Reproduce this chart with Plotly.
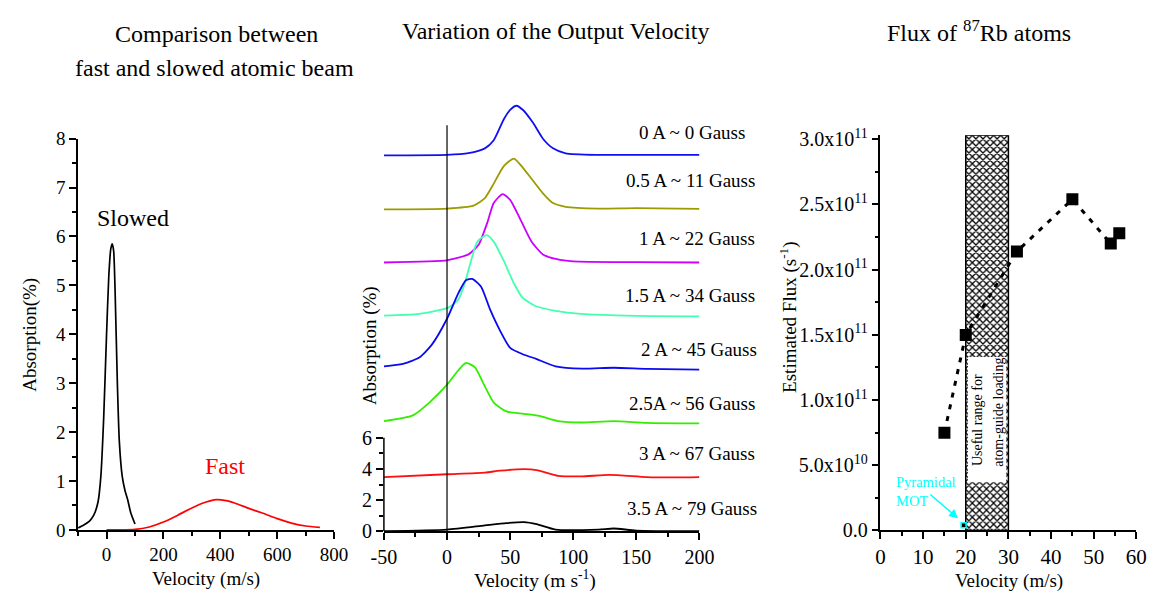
import plotly.graph_objects as go

W, H = 1170, 602
FONT = "Liberation Serif"

# ---------------- data: left panel ----------------
slow_v = [-100, -80, -60, -45, -30, -20, -10, 0, 8, 15, 20, 25, 30, 38, 45, 55, 65, 75, 85, 100]
slow_a = [0.04, 0.10, 0.18, 0.30, 0.57, 1.1, 2.3, 4.0, 5.2, 5.75, 5.85, 5.7, 4.9, 3.0, 1.8, 1.1, 0.8, 0.6, 0.35, 0.12]
fast_v = [0, 50, 100, 150, 200, 250, 300, 350, 385, 420, 450, 500, 550, 600, 650, 700, 750]
fast_a = [0.00, 0.00, 0.01, 0.06, 0.16, 0.30, 0.45, 0.57, 0.62, 0.60, 0.55, 0.44, 0.34, 0.23, 0.14, 0.08, 0.05]

# ---------------- data: middle panel (stacked, offset) ----------------
v0 = [-50, 0, 17, 30, 37, 45, 50, 55, 60, 68, 76, 84, 94, 120, 150, 200]
a0 = [24.17, 24.2, 24.31, 24.62, 25.14, 26.49, 27.1, 27.36, 27.1, 26.28, 25.24, 24.62, 24.3, 24.2, 24.2, 24.2]
v05 = [-50, 0, 21, 30, 37, 45, 53, 60, 68, 76, 84, 94, 120, 150, 200]
a05 = [20.7, 20.75, 20.94, 21.42, 22.35, 23.48, 23.96, 23.38, 22.55, 21.73, 21.1, 20.86, 20.75, 20.78, 20.73]
v1 = [-50, 0, 4, 17, 25, 32, 37, 44, 50, 58, 67, 76, 87, 100, 150, 200]
a1 = [17.28, 17.42, 17.49, 17.8, 18.42, 19.86, 21.1, 21.68, 21.31, 20.07, 18.62, 17.8, 17.49, 17.35, 17.3, 17.28]
v15 = [-50, -22, 1, 9, 14, 19, 24, 31.5, 37, 45, 53, 60, 70, 86, 106, 150, 200]
a15 = [13.86, 13.97, 14.38, 14.9, 15.93, 17.38, 18.62, 19.04, 18.62, 17.38, 15.93, 15.0, 14.48, 14.17, 13.97, 13.85, 13.82]
v2 = [-50, -35, -22, -12, 0, 9, 15, 20, 27, 34, 42, 50, 60, 71, 86, 107, 132, 158, 200]
a2 = [10.6, 10.76, 11.17, 12.0, 13.66, 15.31, 16.14, 16.22, 15.72, 14.28, 12.9, 11.79, 11.38, 11.07, 10.6, 10.45, 10.51, 10.44, 10.39]
v25 = [-50, -27, -14, 0, 9, 15, 22, 30, 37, 47, 61, 73, 88, 106, 132, 158, 200]
a25 = [7.08, 7.45, 8.27, 9.42, 10.35, 10.82, 10.55, 9.31, 8.27, 7.70, 7.55, 7.41, 7.08, 6.99, 7.08, 6.96, 6.93]
v3 = [-50, 0, 30, 42, 61, 71, 88, 106, 129, 158, 179, 200]
a3 = [3.48, 3.66, 3.77, 3.89, 3.99, 3.93, 3.56, 3.52, 3.62, 3.48, 3.46, 3.48]
v35 = [-50, 0, 30, 47, 61, 71, 86, 120, 132, 150, 200]
a35 = [0.0, 0.1, 0.37, 0.52, 0.58, 0.45, 0.10, 0.10, 0.17, 0.04, 0.0]

mid_series = [
    (v0, a0, "#1010f0", "0 A ~ 0 Gauss"),
    (v05, a05, "#9c9c00", "0.5 A ~ 11 Gauss"),
    (v1, a1, "#cc00ff", "1 A ~ 22 Gauss"),
    (v15, a15, "#44ffae", "1.5 A ~ 34 Gauss"),
    (v2, a2, "#0a0af0", "2 A ~ 45 Gauss"),
    (v25, a25, "#33ee00", "2.5A ~ 56 Gauss"),
    (v3, a3, "#ff1010", "3 A ~ 67 Gauss"),
    (v35, a35, "#000000", "3.5 A ~ 79 Gauss"),
]
mid_label_y_px = [127, 177, 237, 296, 352, 408, 460, 517]
mid_label_x_px = [752, 762, 762, 762, 764, 762, 762, 764]

# ---------------- data: right panel ----------------
flux_v = [15, 20, 32, 45, 54, 56]
flux = [0.75e11, 1.50e11, 2.14e11, 2.54e11, 2.20e11, 2.28e11]
mot_v = [19.5]
mot_flux = [0.04e11]
useful_range = [20, 30]
hatch_top = 3.03e11
white_box = [0.37e11, 1.33e11]
flux_ticks = [0, 0.5e11, 1.0e11, 1.5e11, 2.0e11, 2.5e11, 3.0e11]
flux_ticktext = ["0.0", "5.0x10<sup>10</sup>", "1.0x10<sup>11</sup>", "1.5x10<sup>11</sup>",
                 "2.0x10<sup>11</sup>", "2.5x10<sup>11</sup>", "3.0x10<sup>11</sup>"]


def px(x):
    return x / W


def py(y):
    return 1 - y / H


fig = go.Figure()

# left panel
fig.add_trace(go.Scatter(x=slow_v, y=slow_a, mode="lines", line=dict(color="black", width=1.7, shape="spline", smoothing=0.6),
                         xaxis="x", yaxis="y", showlegend=False))
fig.add_trace(go.Scatter(x=fast_v, y=fast_a, mode="lines", line=dict(color="red", width=1.7, shape="spline", smoothing=0.6),
                         xaxis="x", yaxis="y", showlegend=False))

# middle panel
for v, a, c, _ in mid_series:
    fig.add_trace(go.Scatter(x=v, y=a, mode="lines", line=dict(color=c, width=1.8, shape="spline", smoothing=0.6),
                             xaxis="x2", yaxis="y2", showlegend=False))

# right panel
fig.add_trace(go.Bar(x=[sum(useful_range) / 2], y=[hatch_top], width=useful_range[1] - useful_range[0],
                     marker=dict(color="white", line=dict(color="black", width=1.5),
                                 pattern=dict(shape="x", fgcolor="black", bgcolor="white", size=5, solidity=0.45,
                                              fillmode="replace")),
                     xaxis="x3", yaxis="y3", showlegend=False))
fig.add_trace(go.Bar(x=[sum(useful_range) / 2], y=[white_box[1] - white_box[0]], base=[white_box[0]],
                     width=(useful_range[1] - useful_range[0]) * 0.9,
                     marker=dict(color="white", line=dict(width=0)),
                     xaxis="x3", yaxis="y3", showlegend=False))
fig.add_trace(go.Scatter(x=flux_v, y=flux, mode="lines+markers",
                         line=dict(color="black", width=3, dash="5px,7px"),
                         marker=dict(symbol="square", size=12, color="black"),
                         xaxis="x3", yaxis="y3", showlegend=False))
fig.add_trace(go.Scatter(x=mot_v, y=mot_flux, mode="markers",
                         marker=dict(symbol="square", size=5, color="black", line=dict(color="cyan", width=1.5)),
                         xaxis="x3", yaxis="y3", showlegend=False))

axis_common = dict(showline=True, linecolor="black", linewidth=1.5, ticks="outside", ticklen=7, tickwidth=1.5,
                   tickcolor="black", showgrid=False, zeroline=False, mirror=False,
                   tickfont=dict(family=FONT, size=19, color="black"))
minor_common = dict(ticks="outside", ticklen=4, tickwidth=1.5, tickcolor="black", showgrid=False)

fig.update_layout(
    width=W, height=H, margin=dict(l=0, r=0, t=0, b=0),
    paper_bgcolor="white", plot_bgcolor="white", barmode="overlay",
    font=dict(family=FONT, color="black"),
    xaxis=dict(domain=[px(66.7), px(329)], range=[-100, 800], tickvals=[0, 200, 400, 600, 800],
               minor=dict(dtick=100, tick0=0, **minor_common), anchor="y", **axis_common),
    yaxis=dict(domain=[py(538.7), py(133.3)], range=[0, 8], dtick=1,
               minor=dict(dtick=0.5, **minor_common), anchor="x", **axis_common),
    xaxis2=dict(domain=[px(380), px(703.3)], range=[-50, 200], tickvals=[-50, 0, 50, 100, 150, 200],
                ticktext=["-50", "0", "50", "100", "150", "200"],
                minor=dict(dtick=25, tick0=0, **minor_common), anchor="y2",
                **{**axis_common, "tickfont": dict(family=FONT, size=20, color="black")}),
    yaxis2=dict(domain=[py(540), py(88.9)], range=[0, 28], tickvals=[0, 2, 4, 6],
                minor=dict(tickvals=[1, 3, 5], **minor_common), anchor="x2",
                **{**axis_common, "showline": False, "tickfont": dict(family=FONT, size=20, color="black")}),
    xaxis3=dict(domain=[px(888.7), px(1150.9)], range=[0, 60], dtick=10,
                minor=dict(dtick=5, **minor_common), anchor="y3",
                **{**axis_common, "tickfont": dict(family=FONT, size=21, color="black")}),
    yaxis3=dict(domain=[py(539.3), py(129.9)], range=[0, 3.03e11], tickvals=flux_ticks, ticktext=flux_ticktext,
                minor=dict(dtick=0.25e11, tick0=0, **minor_common), anchor="x3",
                **{**axis_common, "tickfont": dict(family=FONT, size=20, color="black")}),
)

# middle panel y-axis line (0..6 only) and vertical zero line
fig.add_shape(type="line", xref="x2 domain", yref="y2", x0=0, x1=0, y0=0, y1=6,
              line=dict(color="black", width=1.5))
fig.add_shape(type="line", xref="x2", yref="y2", x0=0, x1=0, y0=0, y1=26.1,
              line=dict(color="black", width=1.2))

ann = []


def text(x, y, s, size, color="black", angle=0, xanchor="center", yanchor="middle", align="center"):
    ann.append(dict(x=px(x), y=py(y), xref="paper", yref="paper", text=s, showarrow=False, textangle=angle,
                    xanchor=xanchor, yanchor=yanchor, align=align, font=dict(family=FONT, size=size, color=color)))


# titles
text(209, 25, "Comparison between", 24)
text(206, 60, "fast and slowed atomic beam", 24)
text(556, 22, "Variation of the Output Velocity", 24)
text(990, 22, "Flux of <sup>87</sup>Rb atoms", 24)

# axis titles
text(18, 337, "Absorption(%)", 19, angle=-90)
text(198, 590, "Velocity (m/s)", 19)
text(366, 348, "Absorption (%)", 19, angle=-90)
text(535, 590, "Velocity (m s<sup>-1</sup>)", 19.5)
text(795, 318, "Estimated Flux (s<sup>-1</sup>)", 19, angle=-90)
text(1020, 592, "Velocity (m/s)", 19)

# left labels
text(123, 215, "Slowed", 24)
text(217.5, 472, "Fast", 24, color="red")

# middle labels
for (v, a, c, lab), yy, xx in zip(mid_series, mid_label_y_px, mid_label_x_px):
    text(xx, yy, lab, 19, xanchor="right")

# right panel texts
text(902.7, 499, "Pyramidal<br>MOT", 14.5, color="cyan", xanchor="left", align="left")
text(988.3, 475, "Useful range for", 14, angle=-90, yanchor="bottom")
text(1010, 475, "atom-guide loading", 14, angle=-90, yanchor="bottom")

# arrow for Pyramidal MOT
ann.append(dict(x=18.2, y=0.093e11, ax=11.35, ay=0.286e11, xref="x3", yref="y3", axref="x3", ayref="y3",
                text="", showarrow=True, arrowhead=2, arrowsize=1.2, arrowwidth=1.5, arrowcolor="cyan"))

fig.update_layout(annotations=ann)

fig.write_html("out.html",
               post_script="document.body.style.margin='0';document.body.style.overflow='hidden';")
